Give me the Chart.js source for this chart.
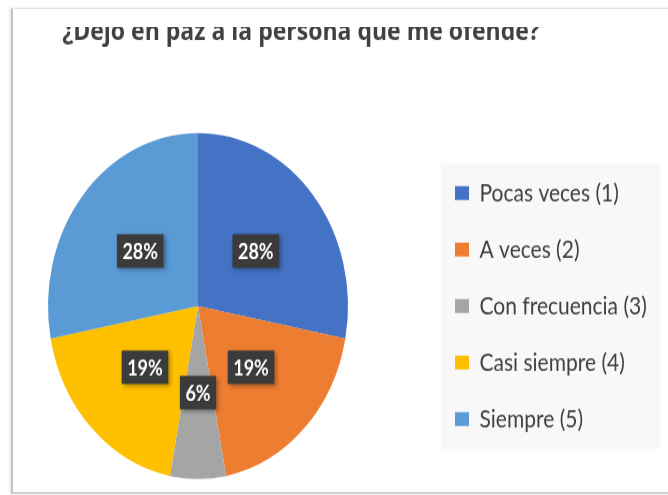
<!DOCTYPE html>
<html>
<head>
<meta charset="utf-8">
<script src="https://cdn.jsdelivr.net/npm/chart.js@4.4.1/dist/chart.umd.min.js"></script>
<style>
  html, body { margin: 0; padding: 0; background: #fff; }
  body { width: 668px; height: 495px; overflow: hidden; position: relative; }
  #marco {
    position: absolute; left: 11px; top: 8px; width: 680px; height: 483px;
    border-left: 2px solid #c4c4c4; border-top: 1px solid #e4e4e4; border-bottom: 2px solid #cfcfcf;
    box-shadow: -1px 0 3px rgba(0,0,0,0.12);
  }
  #recorte { position: absolute; left: 14px; top: 27px; width: 654px; height: 464px; overflow: hidden; }
  #lienzo {
    position: absolute; left: -74px; top: -17px;
    transform: scaleY(1.153); transform-origin: 0 0;
  }
</style>
</head>
<body>
<div id="marco"></div>
<div id="recorte">
  <canvas id="lienzo" width="728" height="480"></canvas>
</div>
<script>
const titulo = "¿Dejo en paz a la persona que me ofende?";
const categorias = ["Pocas veces (1)", "A veces (2)", "Con frecuencia (3)", "Casi siempre (4)", "Siempre (5)"];
const porcentajes = [28, 19, 6, 19, 28];
const colores = ["#4472C4", "#ED7D31", "#A5A5A5", "#FFC000", "#5B9BD5"];

// fondo gris claro detrás de la leyenda
// (y la leyenda se deja dibujar hasta el borde derecho, sin recortar el texto)
const fondoLeyenda = {
    id: "fondoLeyenda",
    afterLayout(chart) {
        chart.legend.right = chart.width;
        chart.legend.width = chart.legend.right - chart.legend.left;
    },
    beforeDraw(chart) {
        const hb = chart.legend.legendHitBoxes;
        if (!hb || !hb.length) return;
        const ctx = chart.ctx;
        const primero = hb[0];
        const ultimo = hb[hb.length - 1];
        const arriba = primero.top + primero.height / 2 - 26;
        const abajo = ultimo.top + ultimo.height / 2 + 26;
        ctx.save();
        ctx.fillStyle = "#f8f8f8";
        ctx.fillRect(primero.left - 14, arriba, 219, abajo - arriba);
        ctx.restore();
    }
};

// etiquetas de porcentaje en cajas oscuras
const etiquetas = {
    id: "etiquetas",
    afterDatasetsDraw(chart) {
        const ctx = chart.ctx;
        const meta = chart.getDatasetMeta(0);
        ctx.save();
        ctx.font = "bold 18px Lato";
        ctx.textAlign = "center";
        ctx.textBaseline = "middle";
        meta.data.forEach(function (arco, i) {
            const p = arco.tooltipPosition();
            const texto = porcentajes[i] + "%";
            const w = ctx.measureText(texto).width + 11;
            const h = 29;
            ctx.shadowColor = "rgba(0,0,0,0.35)";
            ctx.shadowBlur = 4;
            ctx.shadowOffsetX = 2;
            ctx.shadowOffsetY = 2;
            ctx.fillStyle = "#3b3b3b";
            ctx.fillRect(p.x - w / 2, p.y - h / 2, w, h);
            ctx.shadowColor = "transparent";
            ctx.fillStyle = "#ffffff";
            ctx.fillText(texto, p.x, p.y + 1);
        });
        ctx.restore();
    }
};

new Chart(document.getElementById("lienzo"), {
    type: "pie",
    data: {
        labels: categorias,
        datasets: [{
            data: porcentajes,
            backgroundColor: colores,
            borderWidth: 0
        }]
    },
    options: {
        responsive: false,
        animation: false,
        radius: 150,
        layout: { padding: { left: 29, right: 35, top: 0, bottom: 6 } },
        plugins: {
            title: {
                display: true,
                text: titulo,
                align: "center",
                color: "#404040",
                font: { family: "'Open Sans'", size: 23, weight: "bold" },
                padding: { top: 6, bottom: 6 }
            },
            legend: {
                position: "right",
                fullSize: false,
                maxWidth: 206,
                labels: {
                    color: "#404040",
                    font: { family: "Lato", size: 21 },
                    boxWidth: 14,
                    boxHeight: 12,
                    padding: 28
                }
            },
            tooltip: { enabled: false }
        }
    },
    plugins: [fondoLeyenda, etiquetas]
});
</script>
</body>
</html>
